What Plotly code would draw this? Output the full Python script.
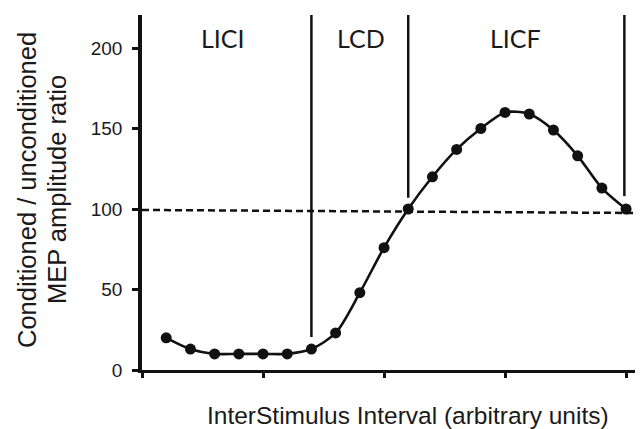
import plotly.graph_objects as go

# Data
isi = list(range(1, 21))
ratio = [20, 13, 10, 10, 10, 10, 13, 23, 48, 76, 100, 120, 137, 150, 160, 159, 149, 133, 113, 100]
x_ticks = [0, 5, 10, 15, 20]
y_ticks = [0, 50, 100, 150, 200]
region_labels = ["LICI", "LCD", "LICF"]
region_label_x = [3.33, 9.05, 15.45]
dividers_x = [7, 11, 19.93]
dividers_bottom = [20.5, 107, 108]
baseline_x = [0, 20.7]
baseline_y = [99.4, 97.5]
y_title_lines = ["Conditioned / unconditioned", "MEP amplitude ratio"]
x_title = "InterStimulus Interval (arbitrary units)"

fig = go.Figure()

# dashed reference line
fig.add_trace(go.Scatter(x=baseline_x, y=baseline_y, mode="lines",
                         line=dict(color="#111111", width=2.5, dash="7px,4px"),
                         hoverinfo="skip", showlegend=False))

# dividers
for dx, db in zip(dividers_x, dividers_bottom):
    fig.add_trace(go.Scatter(x=[dx, dx], y=[db, 220.5], mode="lines",
                             line=dict(color="#111111", width=2.5),
                             hoverinfo="skip", showlegend=False))

# main curve
fig.add_trace(go.Scatter(x=isi, y=ratio, mode="lines+markers",
                         line=dict(color="#111111", width=2.6, shape="spline", smoothing=0.8),
                         marker=dict(color="#111111", size=11),
                         showlegend=False))

for lab, lx in zip(region_labels, region_label_x):
    fig.add_annotation(x=lx, y=206, text=lab, showarrow=False,
                       font=dict(family="Lato, Carlito, sans-serif", size=25, color="#1a1a1a"),
                       xanchor="center", yanchor="middle")

for line_text, shift in zip(y_title_lines, [-115, -85]):
    fig.add_annotation(xref="paper", yref="paper", x=0, y=0.507, xshift=shift,
                       text=line_text, textangle=-90, showarrow=False,
                       xanchor="center", yanchor="middle",
                       font=dict(family="Liberation Sans, Arial, sans-serif", size=25.5, color="#1a1a1a"))
fig.add_annotation(xref="paper", yref="paper", x=0.531, y=0, yshift=-45,
                   text=x_title, showarrow=False, xanchor="center", yanchor="middle",
                   font=dict(family="Liberation Sans, Arial, sans-serif", size=24.5, color="#1a1a1a"))

fig.update_xaxes(range=[0, 20.7], tickvals=x_ticks, ticktext=["" for _ in x_ticks],
                 showline=True, linecolor="#111111", linewidth=3,
                 ticks="outside", ticklen=5, tickwidth=2.5, tickcolor="#111111",
                 showgrid=False, zeroline=False)
fig.update_yaxes(range=[0, 220.5], tickvals=y_ticks,
                 showline=True, linecolor="#111111", linewidth=3.5,
                 ticks="outside", ticklen=6, tickwidth=2.5, tickcolor="#111111",
                 ticklabelstandoff=6,
                 showgrid=False, zeroline=False,
                 tickfont=dict(family="Liberation Sans, Arial, sans-serif", size=19, color="#1a1a1a"))

fig.update_layout(width=635, height=421, margin=dict(l=134, r=0, t=7, b=59),
                  plot_bgcolor="white", paper_bgcolor="white")

fig.write_html("out.html")
